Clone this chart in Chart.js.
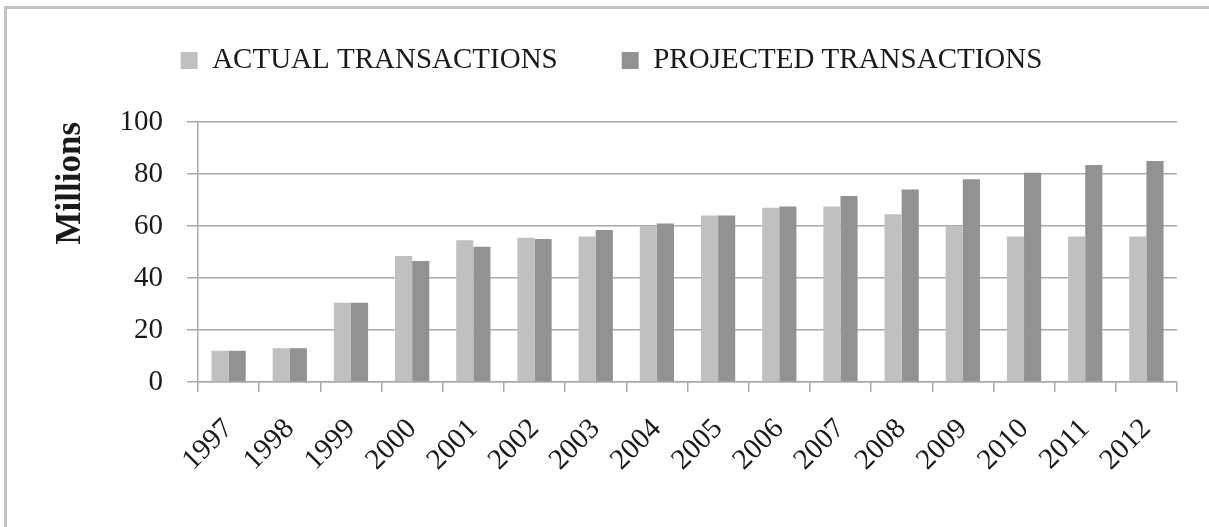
<!DOCTYPE html>
<html>
<head>
<meta charset="utf-8">
<script src="https://cdn.jsdelivr.net/npm/chart.js@4.4.1/dist/chart.umd.min.js"></script>
<style>
  html, body { margin: 0; padding: 0; background: #ffffff; width: 1209px; height: 527px; overflow: hidden; }
  #frame { position: absolute; left: 4px; top: 6px; width: 1400px; height: 800px; border: 3px solid #c2c2c2; box-sizing: border-box; }
  #c { position: absolute; left: 0; top: 0; }
</style>
</head>
<body>
<div id="frame"></div>
<canvas id="c" width="1209" height="527"></canvas>
<script>
const categories = ['1997','1998','1999','2000','2001','2002','2003','2004','2005','2006','2007','2008','2009','2010','2011','2012'];
const actualTransactions = [12, 13, 30.5, 48.5, 54.5, 55.5, 56, 60, 64, 67, 67.5, 64.5, 60, 56, 56, 56];
const projectedTransactions = [12, 13, 30.5, 46.5, 52, 55, 58.5, 61, 64, 67.5, 71.5, 74, 78, 80.5, 83.5, 85];
const yTicks = [0, 20, 40, 60, 80, 100];
const seriesNames = ['ACTUAL TRANSACTIONS', 'PROJECTED TRANSACTIONS'];
const yTitle = 'Millions';

const SERIF = "'Liberation Serif', 'Times New Roman', serif";
const gridColor = '#a9a9a9';

new Chart(document.getElementById('c'), {
  type: 'bar',
  data: {
    labels: categories,
    datasets: [
      { label: seriesNames[0], data: actualTransactions, backgroundColor: '#c0c0c0', borderWidth: 0,
        categoryPercentage: 0.56, barPercentage: 1.0 },
      { label: seriesNames[1], data: projectedTransactions, backgroundColor: '#929292', borderWidth: 0,
        categoryPercentage: 0.56, barPercentage: 1.0 }
    ]
  },
  options: {
    responsive: false,
    devicePixelRatio: 1,
    animation: false,
    layout: { padding: { left: 46, right: 32, top: -18, bottom: 0 } },
    plugins: {
      tooltip: { enabled: false },
      legend: {
        position: 'top',
        weight: 3000,
        labels: {
          font: { family: SERIF, size: 29 },
          color: '#1a1a1a',
          boxWidth: 17,
          boxHeight: 17,
          padding: 64
        }
      },
      title: {
        display: true,
        text: '',
        font: { size: 10, lineHeight: 1 },
        padding: { top: 27, bottom: 0 }
      }
    },
    scales: {
      x: {
        offset: true,
        grid: { display: true, drawOnChartArea: false, drawTicks: true, tickLength: 10, color: gridColor, lineWidth: 1.5, offset: true },
        border: { display: true, color: gridColor, width: 1.5 },
        ticks: {
          font: { family: SERIF, size: 29 },
          color: '#1a1a1a',
          minRotation: 45,
          maxRotation: 45,
          autoSkip: false,
          padding: 20
        },
        afterFit: (s) => { s.height = 145; }
      },
      y: {
        min: 0,
        max: 100,
        afterBuildTicks: (s) => { s.ticks = yTicks.map(v => ({ value: v })); },
        grid: { color: gridColor, lineWidth: 1.5, drawTicks: true, tickLength: 11 },
        border: { display: true, color: gridColor, width: 1.5 },
        ticks: {
          font: { family: SERIF, size: 29 },
          color: '#1a1a1a',
          padding: 24
        },
        title: {
          display: true,
          text: yTitle,
          align: 'end',
          color: '#1a1a1a',
          font: { family: SERIF, size: 35, weight: 'bold', lineHeight: 1 },
          padding: { top: 7, bottom: 0 }
        },
        afterFit: (s) => { s.width = 152; }
      }
    }
  }
});
</script>
</body>
</html>
